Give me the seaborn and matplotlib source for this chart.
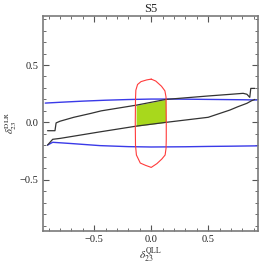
import numpy as np
import pandas as pd
import matplotlib
matplotlib.use("Agg")
import matplotlib.pyplot as plt
import seaborn as sns
from matplotlib.ticker import MultipleLocator

# ---- data ----
blue_top_x = [-0.93, -0.8, -0.6, -0.4, -0.2, 0.0, 0.2, 0.4, 0.6, 0.8, 0.93]
blue_top_y = [0.168, 0.175, 0.185, 0.193, 0.199, 0.203, 0.203, 0.201, 0.199, 0.197, 0.195]

blue_bot_x = [-0.91, -0.865, -0.7, -0.45, -0.2, 0.0, 0.3, 0.5, 0.7, 0.93]
blue_bot_y = [-0.198, -0.174, -0.185, -0.203, -0.212, -0.215, -0.213, -0.21, -0.208, -0.205]

black_up_x = [-0.91, -0.845, -0.835, -0.80, -0.68, -0.53, -0.44, -0.13, 0.13, 0.5, 0.69, 0.807, 0.84, 0.865, 0.874, 0.91]
black_up_y = [-0.073, -0.073, -0.005, 0.01, 0.044, 0.078, 0.10, 0.15, 0.20, 0.23, 0.244, 0.253, 0.245, 0.218, 0.296, 0.296]

black_lo_x = [-0.91, -0.865, -0.80, -0.45, -0.13, 0.13, 0.5, 0.69, 0.76, 0.84, 0.88, 0.91]
black_lo_y = [-0.198, -0.148, -0.14, -0.083, -0.033, 0.0, 0.044, 0.107, 0.136, 0.166, 0.188, 0.20]

red_x = [0.0, 0.04, 0.09, 0.12, 0.13, 0.132, 0.132, 0.13, 0.122, 0.093, 0.05, 0.0,
         -0.05, -0.096, -0.13, -0.138, -0.14, -0.138, -0.135, -0.12, -0.09, -0.04, 0.0]
red_y = [0.377, 0.36, 0.315, 0.275, 0.22, 0.0, -0.15, -0.227, -0.285, -0.32, -0.36, -0.393,
         -0.375, -0.355, -0.285, -0.2, 0.0, 0.2, 0.28, 0.33, 0.355, 0.37, 0.377]

green_x_range = [-0.133, 0.128]

x_ticks = [-0.5, 0.0, 0.5]
y_ticks = [-0.5, 0.0, 0.5]
title = "S5"
xlabel = r"$\delta_{23}^{\rm QLL}$"
ylabel = r"$\delta_{23}^{\rm DLR}$"

# ---- plotting ----
sns.set_theme(style="ticks")
plt.rcParams["font.family"] = ["Liberation Serif", "DejaVu Serif"]
plt.rcParams["mathtext.fontset"] = "stix"

fig = plt.figure(figsize=(2.60, 2.69), dpi=100)
ax = fig.add_axes([0.1654, 0.1424, 0.8250, 0.7992])

def df_of(x, y):
    return pd.DataFrame({"x": x, "y": y})

# green region
gx = np.linspace(green_x_range[0], green_x_range[1], 60)
g_lo = np.interp(gx, black_lo_x, black_lo_y)
g_hi = np.minimum(np.interp(gx, black_up_x, black_up_y), np.interp(gx, blue_top_x, blue_top_y))
ax.fill_between(gx, g_lo, g_hi, color="#a8d81c", lw=0, zorder=1)

kw = dict(sort=False, estimator=None, ax=ax, legend=False)
sns.lineplot(data=df_of(blue_top_x, blue_top_y), x="x", y="y", color="#3a3ae8", lw=1.0, **kw)
sns.lineplot(data=df_of(blue_bot_x, blue_bot_y), x="x", y="y", color="#3a3ae8", lw=1.0, **kw)
sns.lineplot(data=df_of(black_up_x, black_up_y), x="x", y="y", color="#333333", lw=0.9, **kw)
sns.lineplot(data=df_of(black_lo_x, black_lo_y), x="x", y="y", color="#333333", lw=0.9, **kw)
sns.lineplot(data=df_of(red_x, red_y), x="x", y="y", color="#ff3b3b", lw=0.8, **kw)

ax.set_xlim(-0.95, 0.933)
ax.set_ylim(-0.945, 0.93)
ax.set_xticks(x_ticks)
ax.set_yticks(y_ticks)
ax.set_xticklabels(["\u22120.5", "0.0", "0.5"])
ax.set_yticklabels(["\u22120.5", "0.0", "0.5"])
ax.xaxis.set_minor_locator(MultipleLocator(0.1))
ax.yaxis.set_minor_locator(MultipleLocator(0.1))
ax.tick_params(which="both", direction="in", top=True, right=True, color="#555555",
               labelsize=7.5, labelcolor="#222222", pad=3)
ax.tick_params(which="major", length=4, width=0.8)
ax.tick_params(which="minor", length=2, width=0.6)
for s in ax.spines.values():
    s.set_color("#7a7a7a")
    s.set_linewidth(1.2)

ax.set_title(title, fontsize=9, pad=3)
ax.set_xlabel(xlabel, fontsize=8, labelpad=1)
ax.set_ylabel(ylabel, fontsize=7.5)
ax.yaxis.set_label_coords(-0.11, 0.5)

fig.savefig("out.png", dpi=100)
